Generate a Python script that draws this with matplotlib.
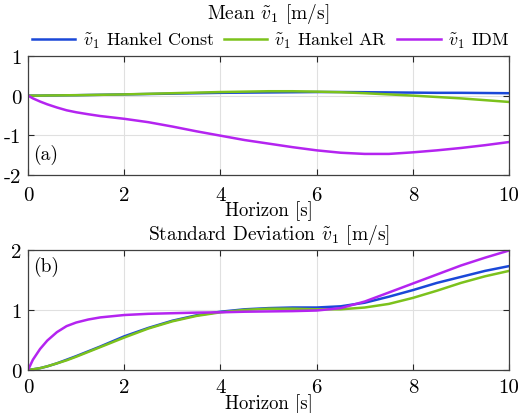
import numpy as np
import matplotlib
matplotlib.use("Agg")
import matplotlib.pyplot as plt

plt.rcParams["font.family"] = ["cmr10", "DejaVu Serif"]
plt.rcParams["mathtext.fontset"] = "cm"
plt.rcParams["axes.unicode_minus"] = False
plt.rcParams["axes.formatter.use_mathtext"] = False

# DATA

t = [0, 0.1, 0.25, 0.4, 0.6, 0.8, 1, 1.25, 1.5, 2, 2.5, 3, 3.5, 4, 4.5, 5, 5.5, 6, 6.5, 7, 7.5, 8,
     8.5, 9, 9.5, 10]

mean_const = [0, 0.0, 0.0, 0.003, 0.005, 0.008, 0.01, 0.015, 0.02, 0.03, 0.04, 0.05, 0.06, 0.07, 0.075,
              0.08, 0.085, 0.09, 0.09, 0.085, 0.08, 0.075, 0.07, 0.07, 0.065, 0.06]
mean_ar = [0, 0.0, 0.0, 0.003, 0.005, 0.008, 0.01, 0.015, 0.02, 0.03, 0.045, 0.06, 0.075, 0.09, 0.10,
           0.11, 0.11, 0.10, 0.085, 0.06, 0.03, 0.0, -0.035, -0.07, -0.115, -0.16]
mean_idm = [0, -0.07, -0.15, -0.22, -0.30, -0.37, -0.42, -0.47, -0.515, -0.585, -0.67, -0.78, -0.90,
            -1.01, -1.12, -1.21, -1.30, -1.38, -1.44, -1.47, -1.47, -1.43, -1.38, -1.32, -1.25, -1.17]

std_const = [0, 0.01, 0.03, 0.06, 0.11, 0.17, 0.23, 0.31, 0.39, 0.56, 0.70, 0.82, 0.91, 0.97, 1.01,
             1.03, 1.04, 1.04, 1.06, 1.12, 1.22, 1.33, 1.45, 1.55, 1.65, 1.73]
std_ar = [0, 0.01, 0.03, 0.06, 0.11, 0.16, 0.22, 0.30, 0.38, 0.54, 0.69, 0.81, 0.90, 0.96, 1.00,
          1.02, 1.02, 1.01, 1.01, 1.04, 1.10, 1.20, 1.32, 1.45, 1.56, 1.65]
std_idm = [0, 0.17, 0.35, 0.49, 0.63, 0.73, 0.79, 0.84, 0.875, 0.915, 0.935, 0.945, 0.955, 0.96, 0.97,
           0.975, 0.98, 0.99, 1.03, 1.14, 1.29, 1.44, 1.59, 1.74, 1.87, 1.99]

labels = [r"$\tilde{v}_1$ Hankel Const", r"$\tilde{v}_1$ Hankel AR", r"$\tilde{v}_1$ IDM"]
colors = ["#1a48d8", "#7cc21c", "#b424f0"]

# FIGURE

fig = plt.figure(figsize=(5.2, 4.14), dpi=100)
ax1 = fig.add_axes([0.054, 0.575, 0.925, 0.2875])
ax2 = fig.add_axes([0.054, 0.104, 0.925, 0.290])


def style(ax, xpad, lpad):
    ax.grid(True, color="#e0e0e0", linewidth=0.8)
    ax.set_axisbelow(True)
    ax.tick_params(direction="in", top=True, right=True, labelsize=15, length=4,
                   color="#262626")
    ax.tick_params(axis="x", pad=xpad)
    ax.tick_params(axis="y", pad=5)
    for s in ax.spines.values():
        s.set_color("#404040")
        s.set_linewidth(0.9)
    ax.set_xlim(0, 10)
    ax.set_xticks([0, 2, 4, 6, 8, 10])
    ax.set_xlabel("Horizon [s]", fontsize=13.5, labelpad=lpad)


# (a) mean
for y, c, lab in zip([mean_const, mean_ar, mean_idm], colors, labels):
    ax1.plot(t, y, color=c, linewidth=1.8, label=lab, solid_joinstyle="round")
style(ax1, 8, -3)
ax1.set_ylim(-2, 1)
ax1.set_yticks([-2, -1, 0, 1])
ax1.text(0.5, 1.36, r"Mean $\tilde{v}_1$ [m/s]", transform=ax1.transAxes,
         ha="center", va="center", fontsize=14)
ax1.legend(loc="center", bbox_to_anchor=(0.504, 1.135), ncol=3, frameon=False,
           fontsize=13, handlelength=2.4, columnspacing=0.55, handletextpad=0.4,
           borderaxespad=0, borderpad=0)
ax1.text(0.01, 0.176, "(a)", transform=ax1.transAxes, fontsize=14, va="center")

# (b) standard deviation
for y, c in zip([std_const, std_ar, std_idm], colors):
    ax2.plot(t, y, color=c, linewidth=1.8, solid_joinstyle="round")
style(ax2, 6, -2)
ax2.set_ylim(0, 2)
ax2.set_yticks([0, 1, 2])
ax2.set_title(r"Standard Deviation $\tilde{v}_1$ [m/s]", fontsize=14, pad=8)
ax2.text(0.01, 0.866, "(b)", transform=ax2.transAxes, fontsize=14, va="center")

fig.savefig("out.png", dpi=100)
